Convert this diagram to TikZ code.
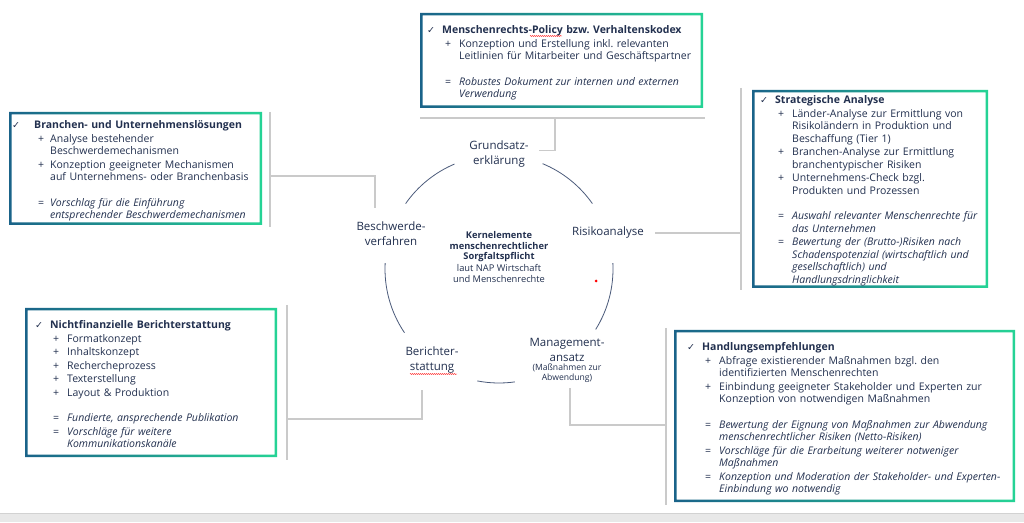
\documentclass[tikz,border=0pt]{standalone}
\usepackage{fontspec}
\setmainfont{Open Sans}
\newfontfamily\symfont{DejaVu Sans}
\usetikzlibrary{positioning, decorations.pathmorphing}
\frenchspacing

\definecolor{ink}{HTML}{22304F}
\definecolor{frameL}{HTML}{1A6389}
\definecolor{frameR}{HTML}{25D395}
\definecolor{linkgray}{HTML}{CACACA}
\definecolor{ringblue}{HTML}{4A5A7A}
\definecolor{bandgray}{HTML}{E8E8E8}
\definecolor{bandline}{HTML}{D2D2D2}

% indents inside the boxes: title, marker, item text
\newlength{\tind}\newlength{\mind}\newlength{\xind}
\setlength{\tind}{15pt}\setlength{\mind}{18pt}\setlength{\xind}{32pt}

\newcommand{\boxhead}[1]{\noindent\makebox[\tind][l]{\symfont\fontsize{9.5}{9.5}\selectfont ✓}\textbf{#1}\par\vspace{1pt}}
\newcommand{\plusitem}[1]{{\hangindent=\xind\hangafter=1\noindent\hspace*{\mind}\makebox[\dimexpr\xind-\mind\relax][l]{+}#1\par}\vspace{1pt}}
\newcommand{\eqitem}[1]{{\hangindent=\xind\hangafter=1\noindent\hspace*{\mind}\makebox[\dimexpr\xind-\mind\relax][l]{=}\textit{#1}\par}\vspace{1pt}}
\newcommand{\gap}{\vspace{12pt}}

% frame with a colour gradient from left to right
\newcommand{\gradframe}[1]{%
  \shade[left color=frameL, right color=frameR, even odd rule]
    (#1.south west) rectangle (#1.north east)
    ([shift={(2.5pt,2.5pt)}]#1.south west) rectangle ([shift={(-2.5pt,-2.5pt)}]#1.north east);}

\begin{document}
\begin{tikzpicture}[x=1pt, y=1pt,
    frame/.style={inner sep=0pt, outer sep=0pt, anchor=north west},
    boxtext/.style={inner sep=0pt, text width=360pt, align=left, text=ink,
      font=\fontsize{10.5}{12.5}\selectfont},
    stage/.style={text=ink, align=center, inner sep=0pt, font=\fontsize{11.5}{15}\selectfont},
    link/.style={draw=linkgray, line width=1.1pt},
    ring/.style={draw=ringblue, line width=0.8pt},
    spell/.style={draw=red, line width=0.4pt, decorate,
      decoration={snake, amplitude=0.5pt, segment length=2pt}}]

\useasboundingbox (0,0) rectangle (1024,522);
\fill[white] (0,0) rectangle (1024,522);

% bottom strip
\fill[bandgray] (0,0) rectangle (1024,9);
\draw[bandline] (0,9.3) -- (1024,9.3);

% service boxes
\node[frame, minimum width=283pt, minimum height=95pt] (policy) at (420,509) {};
\node[frame, minimum width=253pt, minimum height=113pt] (branchen) at (9,410) {};
\node[frame, minimum width=236pt, minimum height=198pt] (strat) at (752,432) {};
\node[frame, minimum width=252pt, minimum height=149pt] (bericht) at (25,214) {};
\node[frame, minimum width=341pt, minimum height=172pt] (handlung) at (674,192) {};
\foreach \b in {policy, branchen, strat, bericht, handlung}{\gradframe{\b}}

\node[boxtext, below right=12.5pt and 7pt of policy.north west] (policytxt) {
  \boxhead{Menschenrechts-Policy bzw. Verhaltenskodex}
  \plusitem{Konzeption und Erstellung inkl. relevanten\newline Leitlinien für Mitarbeiter und Geschäftspartner}
  \gap
  \eqitem{Robustes Dokument zur internen und externen\newline Verwendung}};

\node[boxtext, below right=8.5pt and 3pt of branchen.north west] (branchentxt) {
  \setlength{\tind}{22pt}\setlength{\mind}{26pt}\setlength{\xind}{38pt}%
  \boxhead{Branchen- und Unternehmenslösungen}
  \plusitem{Analyse bestehender\newline Beschwerdemechanismen}
  \plusitem{Konzeption geeigneter Mechanismen\newline auf Unternehmens- oder Branchenbasis}
  \gap
  \eqitem{Vorschlag für die Einführung\newline entsprechender Beschwerdemechanismen}};

\node[boxtext, below right=5.5pt and 8pt of strat.north west] (strattxt) {
  \boxhead{Strategische Analyse}
  \plusitem{Länder-Analyse zur Ermittlung von\newline Risikoländern in Produktion und\newline Beschaffung (Tier 1)}
  \plusitem{Branchen-Analyse zur Ermittlung\newline branchentypischer Risiken}
  \plusitem{Unternehmens-Check bzgl.\newline Produkten und Prozessen}
  \gap
  \eqitem{Auswahl relevanter Menschenrechte für\newline das Unternehmen}
  \eqitem{Bewertung der (Brutto-)Risiken nach\newline Schadenspotenzial (wirtschaftlich und\newline gesellschaftlich) und\newline Handlungsdringlichkeit}};

\node[boxtext, below right=12.5pt and 10pt of bericht.north west] (berichttxt) {
  \boxhead{Nichtfinanzielle Berichterstattung}
  \plusitem{Formatkonzept}
  \plusitem{Inhaltskonzept}
  \plusitem{Rechercheprozess}
  \plusitem{Texterstellung}
  \plusitem{Layout \& Produktion}
  \gap
  \eqitem{Fundierte, ansprechende Publikation}
  \eqitem{Vorschläge für weitere\newline Kommunikationskanäle}};

\node[boxtext, below right=12.5pt and 13pt of handlung.north west] (handlungtxt) {
  \boxhead{Handlungsempfehlungen}
  \plusitem{Abfrage existierender Maßnahmen bzgl. den\newline identifizierten Menschenrechten}
  \plusitem{Einbindung geeigneter Stakeholder und Experten zur\newline Konzeption von notwendigen Maßnahmen}
  \gap
  \eqitem{Bewertung der Eignung von Maßnahmen zur Abwendung\newline menschenrechtlicher Risiken (Netto-Risiken)}
  \eqitem{Vorschläge für die Erarbeitung weiterer notweniger\newline Maßnahmen}
  \eqitem{Konzeption und Moderation der Stakeholder- und Experten-\newline Einbindung wo notwendig}};

% cycle of core elements
\coordinate (hub) at (499,253);
\draw[ring] ([shift={(113:114)}]hub) arc[start angle=113, end angle=145, radius=114];
\draw[ring] ([shift={(35:114)}]hub) arc[start angle=35, end angle=67.5, radius=114];
\draw[ring] ([shift={(-32:114)}]hub) arc[start angle=-32, end angle=3, radius=114];
\draw[ring] ([shift={(-101:114)}]hub) arc[start angle=-101, end angle=-82, radius=114];
\draw[ring] ([shift={(177:114)}]hub) arc[start angle=177, end angle=214, radius=114];

\node[text=ink, align=center, inner sep=0pt, font=\fontsize{9.3}{10.7}\selectfont] (kern) at (499,265)
  {\textbf{Kernelemente}\\\textbf{menschenrechtlicher}\\\textbf{Sorgfaltspflicht}\\[1.5pt]laut NAP Wirtschaft\\und Menschenrechte};

\node[stage] (grund) at (499,367.5) {Grundsatz-\\erklärung};
\node[stage] (risiko) at (608,289) {Risikoanalyse};
\node[stage] (beschw) at (391,288) {Beschwerde-\\verfahren};
\node[stage] (manage) at (567,172) {Management-\\ansatz};
\node[text=ink, align=center, inner sep=0pt, font=\fontsize{8.6}{9.5}\selectfont, below=2pt of manage] (managenote) {(Maßnahmen zur\\Abwendung)};
\node[stage] (berichtlbl) at (432,162) {Berichter-\\stattung};

% leader lines from the boxes
\coordinate (polj) at (555,404);
\draw[link] ([yshift=-10pt]policy.south west) -- ([yshift=-10pt, xshift=2pt]policy.south east);
\draw[link] (polj) |- ([xshift=10pt,yshift=4pt]grund.east);

\draw[link] ([xshift=8pt]branchen.north east) -- ([xshift=8pt,yshift=-2pt]branchen.south east);
\draw[link] ([xshift=8pt,yshift=-7.5pt]branchen.east) -| ([xshift=-16pt,yshift=13.5pt]beschw.north);

\draw[link] ([xshift=-11pt,yshift=2pt]strat.north west) -- ([xshift=-11pt,yshift=-2pt]strat.south west);
\draw[link] ([xshift=11pt]risiko.east) -- ([xshift=-11pt]strat.west |- risiko.east);

\draw[link] ([xshift=10pt,yshift=3pt]bericht.north east) -- ([xshift=10pt,yshift=-3pt]bericht.south east);
\draw[link] ([xshift=10pt,yshift=-36.5pt]bericht.east) -| ([xshift=-10pt,yshift=-16.5pt]berichtlbl.south);

\draw[link] ([xshift=-8pt,yshift=2pt]handlung.north west) -- ([xshift=-8pt,yshift=-3pt]handlung.south west);
\draw[link] ([xshift=-8pt,yshift=-9pt]handlung.west) -| ([xshift=3pt,yshift=-6pt]managenote.south);

% spell-check marks and stray dot
\draw[spell] (530,486) -- (562,486);
\draw[spell] (410,148) -- (457,148);
\fill[red] (596,241) circle (1.5);
\end{tikzpicture}
\end{document}
